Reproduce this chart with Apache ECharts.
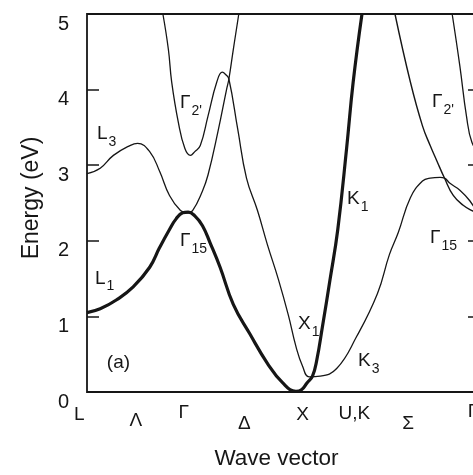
<!DOCTYPE html>
<html><head><meta charset="utf-8">
<script src="https://cdn.jsdelivr.net/npm/echarts@6/dist/echarts.min.js"></script>
<style>html,body{margin:0;padding:0;overflow:hidden;background:#fff}#c{width:490px;height:475px}</style>
</head><body><div id="c"></div><script>
// Band structure along L–Γ–X–U,K–Γ, scanned-figure look: black ink on white.
const INK = '#161616';
const FONT = 'Liberation Sans, Arial, sans-serif';

// energy axis (eV)
const eMin = 0, eMax = 5, eStep = 1;
// wave vector, in units of the Γ–X distance
const kMax = 3.573;
const kLabels    = ['L', 'Λ', 'Γ', 'Δ', 'X', 'U,K', 'Σ', 'Γ'];
const kLabelPos  = [-0.07, 0.445, 0.88, 1.43, 1.96, 2.43, 2.92, 3.51];
const kLabelDrop = [0, 6, -2, 9, 0, -1, 9, -3]; // px, greek letters sit lower in the original

// bands: [k, E (eV)]
const bandL1 = [ // thick: L1 – Γ15 – X – K1
  [0, 1.05], [0.12, 1.1], [0.27, 1.22], [0.42, 1.39], [0.57, 1.65], [0.66, 1.91],
  [0.75, 2.15], [0.81, 2.29], [0.87, 2.37], [0.92, 2.38], [0.98, 2.33], [1.05, 2.2],
  [1.12, 1.97], [1.21, 1.65], [1.33, 1.16], [1.48, 0.77], [1.64, 0.38], [1.78, 0.12],
  [1.9, 0.01], [1.95, 0.03], [2.0, 0.12], [2.05, 0.21], [2.09, 0.43], [2.14, 0.86],
  [2.21, 1.49], [2.28, 2.15], [2.36, 3.22], [2.42, 4.1], [2.5, 5.0]
];
const bandL3 = [ // L3 – Γ15 – upper Δ
  [0, 2.89], [0.12, 2.96], [0.24, 3.13], [0.39, 3.26], [0.46, 3.29], [0.57, 3.18],
  [0.66, 2.92], [0.75, 2.6], [0.85, 2.4], [0.91, 2.37], [0.96, 2.4], [1.05, 2.66],
  [1.1, 2.87], [1.19, 3.44], [1.27, 4.01], [1.29, 4.14], [1.33, 4.53], [1.38, 5.0]
];
const bandG2 = [ // Γ2' – Δ – X1 – K3 – Σ
  [0.69, 5.0], [0.74, 4.53], [0.77, 4.1], [0.83, 3.57], [0.89, 3.22], [0.94, 3.13],
  [0.98, 3.18], [1.03, 3.26], [1.1, 3.65], [1.18, 4.1], [1.23, 4.23], [1.26, 4.2],
  [1.29, 4.14], [1.37, 3.48], [1.45, 2.83], [1.55, 2.4], [1.64, 1.95], [1.74, 1.49],
  [1.83, 1.02], [1.9, 0.6], [1.96, 0.34], [2.02, 0.2], [2.12, 0.21], [2.27, 0.31],
  [2.45, 0.73], [2.64, 1.3], [2.75, 1.82], [2.83, 2.11], [2.94, 2.57], [3.05, 2.79],
  [3.12, 2.83], [3.21, 2.84], [3.25, 2.83], [3.3, 2.76], [3.39, 2.67], [3.48, 2.53],
  [3.55, 2.37]
];
const bandSigma = [ // Γ2' branch coming down along Σ
  [2.8, 5.0], [2.94, 4.1], [3.05, 3.52], [3.12, 3.26], [3.18, 3.06], [3.25, 2.83],
  [3.33, 2.6], [3.42, 2.47], [3.5, 2.4], [3.55, 2.37]
];
const bandG2R = [ // Γ2' at the second Γ
  [3.32, 5.0], [3.39, 4.31], [3.45, 3.65], [3.5, 3.3], [3.57, 3.16]
];

// in-plot labels: main letter, subscript, anchor (left edge, middle) in data units
const annots = [
  { m: 'L', s: '3', k: 0.09, e: 3.41 },
  { m: 'Γ', s: "2'", k: 0.845, e: 3.82 },
  { m: 'Γ', s: '15', k: 0.845, e: 2.0 },
  { m: 'L', s: '1', k: 0.073, e: 1.5 },
  { m: '(a)', s: '', k: 0.18, e: 0.39 },
  { m: 'X', s: '1', k: 1.918, e: 0.9 },
  { m: 'K', s: '1', k: 2.364, e: 2.55 },
  { m: 'K', s: '3', k: 2.464, e: 0.41 },
  { m: 'Γ', s: "2'", k: 3.136, e: 3.84 },
  { m: 'Γ', s: '15', k: 3.118, e: 2.04 },
];

function band(data, w) {
  return {
    type: 'line', data, showSymbol: false, silent: true,
    smooth: 0.45,
    lineStyle: { color: INK, width: w }, z: w > 2 ? 4 : 3,
  };
}

function yAx(pos, labels) {
  return {
    type: 'value', position: pos, min: eMin, max: eMax, interval: eStep,
    axisLine: { show: false },
    axisTick: { show: true, inside: true, length: 12, lineStyle: { color: INK, width: 1.5 } },
    axisLabel: labels
      ? { color: INK, fontFamily: FONT, fontSize: 20, margin: 18, verticalAlign: 'top', lineHeight: 20 }
      : { show: false },
    splitLine: { show: false },
  };
}

const chart = echarts.init(document.getElementById('c'), null, { renderer: 'canvas' });
chart.setOption({
  backgroundColor: '#fff',
  animation: false,
  grid: { left: 87, right: 10, top: 14, bottom: 79, show: true,
          borderColor: INK, borderWidth: 1.8, backgroundColor: 'transparent' },
  xAxis: {
    type: 'value', min: 0, max: kMax,
    name: 'Wave vector', nameLocation: 'middle', nameGap: 55,
    nameTextStyle: { color: INK, fontFamily: FONT, fontSize: 22.5, padding: [0, 14, 0, 0] },
    axisLine: { show: false }, axisTick: { show: false },
    axisLabel: { show: false }, splitLine: { show: false },
  },
  yAxis: [
    Object.assign(yAx('left', true), {
      name: 'Energy (eV)', nameLocation: 'middle', nameGap: 44, nameRotate: 90,
      nameTextStyle: { color: INK, fontFamily: FONT, fontSize: 23, padding: [0, 0, 0, 10] },
    }),
    yAx('right', false),
  ],
  series: [
    band(bandL3, 1.3), band(bandG2, 1.3), band(bandSigma, 1.4), band(bandG2R, 1.3),
    band(bandL1, 3.2),
  ],
});

// text labels placed through the grid's coordinate system
const ctx = document.createElement('canvas').getContext('2d');
const MAIN = 19, SUB = 14;
const gfx = [];
annots.forEach(a => {
  const [x, y] = chart.convertToPixel({ gridIndex: 0 }, [a.k, a.e]);
  gfx.push({ type: 'text', x, y, z: 10,
    style: { text: a.m, fill: INK, fontFamily: FONT, fontSize: MAIN, align: 'left', verticalAlign: 'middle' } });
  if (a.s) {
    ctx.font = MAIN + 'px ' + FONT;
    const w = ctx.measureText(a.m).width;
    gfx.push({ type: 'text', x: x + w + 1, y: y + 8, z: 10,
      style: { text: a.s, fill: INK, fontFamily: FONT, fontSize: SUB, align: 'left', verticalAlign: 'middle' } });
  }
});
kLabels.forEach((t, i) => {
  const [x, y] = chart.convertToPixel({ gridIndex: 0 }, [kLabelPos[i], 0]);
  gfx.push({ type: 'text', x, y: y + 23 + kLabelDrop[i], z: 10,
    style: { text: t, fill: INK, fontFamily: FONT, fontSize: 19, align: 'center', verticalAlign: 'middle' } });
});
chart.setOption({ graphic: gfx });
</script></body></html>
